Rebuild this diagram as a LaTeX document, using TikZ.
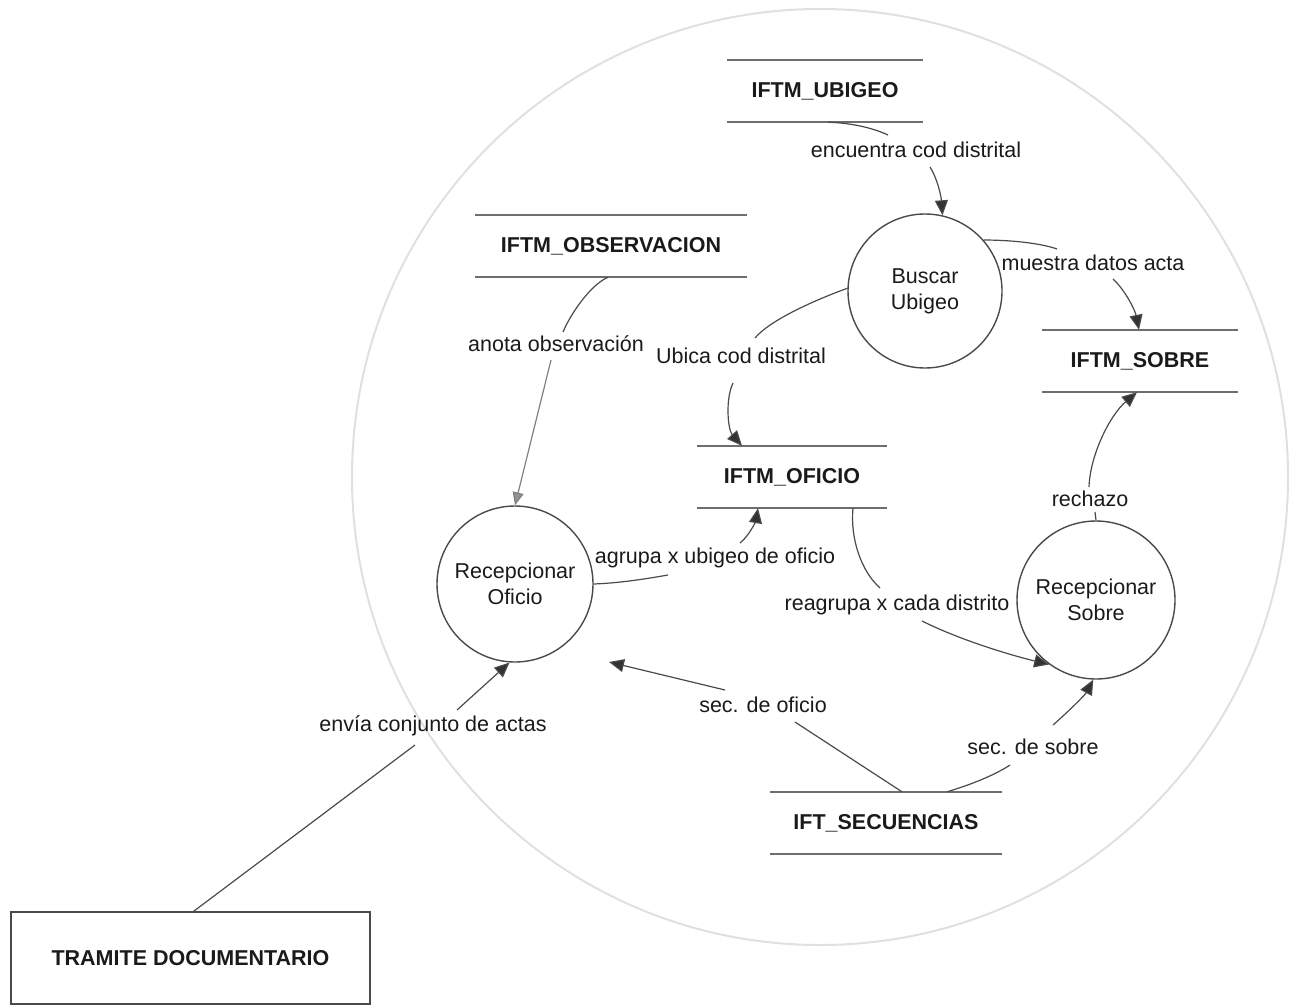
\documentclass[tikz,border=0pt]{standalone}
\usepackage{fontspec}
\setmainfont{Liberation Sans}
\usetikzlibrary{arrows.meta,calc}
\definecolor{ln}{HTML}{4A4A4A}
\definecolor{stl}{HTML}{6E6E6E}
\definecolor{txt}{HTML}{1A1A1A}
\definecolor{bnd}{HTML}{E0E0E0}
\begin{document}
\begin{tikzpicture}[x=1pt,y=-1pt,
  every node/.style={font=\fontsize{21.5}{26}\selectfont, text=txt},
  store/.style={inner sep=0pt, minimum height=62pt, font=\fontsize{21.5}{26}\selectfont\bfseries},
  storeline/.style={draw=stl, line width=1.6pt},
  proc/.style={circle, draw=ln, line width=1.4pt, minimum size=156pt, align=center, inner sep=0pt},
  entity/.style={draw=ln, line width=1.2pt, minimum width=359pt, minimum height=92pt, inner sep=0pt, font=\fontsize{21.5}{26}\selectfont\bfseries},
  lab/.style={inner sep=1pt},
  flow/.style={draw=ln, line width=1.2pt},
  arr/.style={flow, -{Triangle[length=15pt,width=13pt,fill=black!80]}},
]
\useasboundingbox (0,0) rectangle (1289,1006);
% system boundary
\draw[bnd, line width=2pt] (820,477) circle[radius=468];

% data stores
\node[store, minimum width=195pt] (ubigeo) at (825,91) {IFTM\_UBIGEO};
\node[store, minimum width=271pt] (obs) at (611,246) {IFTM\_OBSERVACION};
\node[store, minimum width=195pt] (sobre) at (1140,361) {IFTM\_SOBRE};
\node[store, minimum width=190pt] (oficio) at (792,477) {IFTM\_OFICIO};
\node[store, minimum width=232pt] (secu) at (886,823) {IFT\_SECUENCIAS};
\foreach \s in {ubigeo,obs,sobre,oficio,secu}
  \draw[storeline] (\s.north west) -- (\s.north east) (\s.south west) -- (\s.south east);

% processes
\node[proc, minimum size=154pt] (buscar) at (925,291) {Buscar\\Ubigeo};
\node[proc] (recofi) at (515,584) {Recepcionar\\Oficio};
\node[proc, minimum size=158pt] (recsob) at (1096,600) {Recepcionar\\Sobre};

% external entity
\node[entity] (tramite) at (190.5,958) {TRAMITE DOCUMENTARIO};

% labels
\node[lab] (enc) at (916,150) {encuentra cod distrital};
\node[lab] (mue) at (1093,263) {muestra datos acta};
\node[lab] (ano) at (556,344) {anota observación};
\node[lab] (ubi) at (741,356) {Ubica cod distrital};
\node[lab] (agr) at (715,558) {agrupa x ubigeo de oficio};
\node[lab] (rea) at (897,605) {reagrupa x cada distrito};
\node[lab] (rec) at (1090,499) {rechazo};
\node[lab] (sof) at (763,705) {sec. de oficio};
\node[lab] (sso) at (1033,747) {sec. de sobre};
\node[lab] (env) at (433,726) {envía conjunto de actas};
\coordinate (sofend) at (609,662);

% flows
% encuentra cod distrital
\draw[flow] ($(ubigeo.south)+(3,0)$) .. controls (852,123) and (873,128) .. ($(enc)+(-28,-15)$);
\draw[arr] ($(enc)+(14,17)$) .. controls (937,178) and (941,195) .. (buscar.77);
% muestra datos acta
\draw[flow] (buscar.41) .. controls (1010,240) and (1040,243) .. ($(mue)+(-36,-14)$);
\draw[arr] ($(mue)+(20,16)$) .. controls (1125,290) and (1135,310) .. ($(sobre.north)+(-1,0)$);
% rechazo
\draw[flow] (recsob.90) -- ($(rec)+(5,13)$);
\draw[arr] ($(rec)+(-1,-12)$) .. controls (1090,455) and (1110,415) .. ($(sobre.south)+(-3,0)$);
% Ubica cod distrital
\draw[flow] (buscar.178) .. controls (815,300) and (770,320) .. ($(ubi)+(14,-18)$);
\draw[arr] ($(ubi)+(-8,27)$) .. controls (725,400) and (728,430) .. ($(oficio.north)+(-50,0)$);
% anota observacion
\draw[flow] ($(obs.south)+(-3,0)$) .. controls (590,285) and (570,315) .. ($(ano)+(7,-12)$);
\draw[flow, draw=ln!70, -{Triangle[length=13pt,width=11pt,fill=ln!60]}] ($(ano)+(-5,16)$) -- (recofi.90);
% agrupa x ubigeo de oficio
\draw[flow] (recofi.0) .. controls (620,583) and (645,579) .. ($(agr)+(-47,17)$);
\draw[arr] ($(agr)+(25,-15)$) .. controls (750,535) and (756,520) .. ($(oficio.south)+(-34,0)$);
% reagrupa x cada distrito
\draw[flow] ($(oficio.south)+(61,0)$) .. controls (850,540) and (862,572) .. ($(rea)+(-17,-17)$);
\draw[arr] ($(rea)+(25,16)$) .. controls (960,640) and (1010,655) .. (recsob.234);
% sec. de oficio
\draw[flow] ($(secu.north)+(16,0)$) -- ($(sof)+(32,17)$);
\draw[arr] ($(sof)+(-38,-15)$) -- (sofend);
% sec. de sobre
\draw[flow] ($(secu.north)+(61,0)$) .. controls (970,785) and (995,775) .. ($(sso)+(-23,18)$);
\draw[arr] ($(sso)+(20,-22)$) .. controls (1070,710) and (1085,695) .. (recsob.268);
% envia conjunto de actas
\draw[flow] ($(tramite.north)+(3,0)$) -- ($(env)+(-18,19)$);
\draw[arr] ($(env)+(24,-16)$) -- (recofi.266);
\end{tikzpicture}
\end{document}
